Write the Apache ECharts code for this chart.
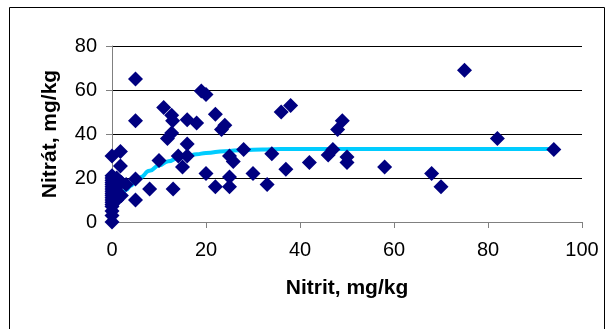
<!DOCTYPE html>
<html>
<head>
<meta charset="utf-8">
<script src="https://cdn.jsdelivr.net/npm/echarts@6/dist/echarts.min.js"></script>
<style>
  html, body { margin: 0; padding: 0; background: #fff; }
  #chart { width: 611px; height: 329px; }
</style>
</head>
<body>
<div id="chart"></div>
<script>
const nitrit = [
  0, 0, 0, 0, 0, 0, 0, 0, 0, 0, 0, 0, 0, 0, 0, 0, 0, 0, 0,
  0.5, 0.5, 1, 1, 1, 1, 2, 2, 3, 1.8, 1.8,
  5, 5, 5, 5, 8, 10, 11, 12.7, 12.9, 12.7, 11.8, 13, 14.1, 15, 16, 16, 16, 18,
  19, 20, 20, 22, 23.3, 24, 22, 25, 25.8, 25, 25, 28, 30, 33, 34, 36, 38, 37,
  42, 46, 47, 48, 49, 50, 50, 58, 68, 70, 75, 82, 94
];
const nitrat = [
  0, 3, 5, 7, 8, 9, 10, 11, 12, 13, 14, 15, 16, 17, 18, 19, 20, 21, 30,
  12, 16, 10, 14, 18, 20, 12, 18, 17, 32, 25.5,
  65, 46, 19.5, 10, 15, 28, 52, 48.5, 46, 40.5, 38, 15, 30, 25, 35.5, 46.5, 30, 45,
  59.5, 58, 22, 49, 42, 44, 16, 30, 27.5, 20.5, 16, 33, 22, 17, 31, 50, 53, 24,
  27, 30.5, 33, 42, 46, 29.5, 27, 25, 22, 16, 69, 38, 33
];

// fitted curve
const fitNitrit = [1, 2, 3, 4, 5, 6, 8, 10, 12, 14, 16, 18, 20, 24, 28, 32, 36, 50, 70, 94];
const fitNitrat = [10, 12.5, 14.5, 16.5, 18.5, 20.3, 23.3, 25.7, 27.6, 29, 30, 30.8, 31.4, 32.2, 32.7, 33, 33.2, 33.2, 33.2, 33.2];

const xTicks = [0, 20, 40, 60, 80, 100];
const yTicks = [0, 20, 40, 60, 80];

const font = 'Arial, "Liberation Sans", sans-serif';

const points = nitrit.map((x, i) => [x, nitrat[i]]);
const fit = fitNitrit.map((x, i) => [x, fitNitrat[i]]);

const chart = echarts.init(document.getElementById('chart'));

chart.setOption({
  animation: false,
  backgroundColor: '#fff',
  grid: { left: 112, right: 29, top: 46, bottom: 107 },
  xAxis: {
    type: 'value',
    min: xTicks[0],
    max: xTicks[xTicks.length - 1],
    interval: 20,
    name: 'Nitrit, mg/kg',
    nameLocation: 'middle',
    nameGap: 56,
    nameTextStyle: { fontFamily: font, fontSize: 21, fontWeight: 'bold', color: '#000' },
    axisLine: { lineStyle: { color: '#808080', width: 1 } },
    axisTick: { show: true, length: 6, lineStyle: { color: '#808080' } },
    axisLabel: { fontFamily: font, fontSize: 20, color: '#000', margin: 18 },
    splitLine: { show: false }
  },
  yAxis: {
    type: 'value',
    min: yTicks[0],
    max: yTicks[yTicks.length - 1],
    interval: 20,
    name: 'Nitrát, mg/kg',
    nameLocation: 'middle',
    nameGap: 51,
    nameTextStyle: { fontFamily: font, fontSize: 21, fontWeight: 'bold', color: '#000' },
    axisLine: { show: true, lineStyle: { color: '#808080', width: 1 } },
    axisTick: { show: true, length: 6, lineStyle: { color: '#808080' } },
    axisLabel: { fontFamily: font, fontSize: 20, color: '#000', margin: 15 },
    splitLine: { show: true, lineStyle: { color: '#000', width: 1 } }
  },
  graphic: [
    {
      type: 'rect',
      shape: { x: 9.5, y: 7.5, width: 595, height: 340 },
      style: { fill: 'none', stroke: '#000', lineWidth: 1 },
      silent: true,
      z: 100
    }
  ],
  series: [
    {
      type: 'line',
      data: fit,
      smooth: true,
      smoothMonotone: 'x',
      showSymbol: false,
      lineStyle: { color: '#00CCFF', width: 4 },
      z: 1
    },
    {
      type: 'scatter',
      data: points,
      symbol: 'diamond',
      symbolSize: 15,
      itemStyle: { color: '#000080', opacity: 1 },
      z: 2
    }
  ]
});
</script>
</body>
</html>
